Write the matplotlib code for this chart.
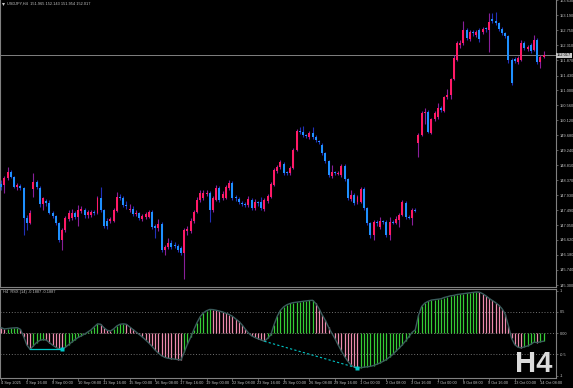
import matplotlib
matplotlib.use("Agg")
import matplotlib.pyplot as plt
import numpy as np

# ---------------- data (USDJPY H4) ----------------
opens = [148.25, 148.22, 148.43, 148.60, 148.46, 148.16, 148.19, 148.14, 147.26, 147.11,
         148.10, 148.31, 148.14, 147.67, 147.75, 147.70, 147.40, 147.32, 147.11, 146.61,
         146.91, 147.23, 147.26, 147.40, 147.29, 147.46, 147.49, 147.35, 147.35, 147.43,
         147.40, 147.84, 147.49, 147.17, 147.17, 147.17, 147.46, 147.87, 147.84, 147.64,
         147.49, 147.52, 147.37, 147.40, 147.23, 147.29, 147.29, 147.43, 147.02, 146.97,
         147.08, 146.32, 146.41, 146.53, 146.47, 146.44, 146.38, 146.23, 146.88, 146.88,
         147.17, 147.43, 147.78, 147.84, 147.96, 147.99, 147.49, 147.78, 148.14, 147.84,
         147.84, 148.14, 148.28, 147.87, 147.81, 147.70, 147.67, 147.64, 147.78, 147.55,
         147.73, 147.73, 147.52, 147.75, 147.87, 148.22, 148.63, 148.75, 148.84, 148.60,
         148.57, 148.72, 149.24, 149.80, 149.77, 149.68, 149.63, 149.74, 149.63, 149.51,
         149.39, 149.16, 148.92, 148.49, 148.60, 148.55, 148.51, 148.78, 148.40, 147.81,
         147.93, 147.73, 147.73, 148.11, 147.55, 147.11, 146.76, 147.14, 146.99, 147.17,
         147.14, 146.76, 147.14, 147.11, 147.20, 147.35, 147.70, 147.29, 147.26, 147.49,
         149.45, 149.68, 150.33, 150.36, 149.74, 150.15, 150.21, 150.47, 150.39, 150.79,
         150.85, 151.32, 151.88, 152.32, 152.37, 152.75, 152.49, 152.69, 152.61, 152.75,
         152.69, 152.81, 152.75, 153.07, 153.02, 152.96, 152.78, 152.66, 152.58, 151.88,
         151.90, 151.82, 151.88, 152.37, 152.20, 152.31, 152.17, 152.46, 151.82, 151.965]
highs = [148.37, 148.49, 148.75, 148.66, 148.49, 148.28, 148.25, 148.16, 147.35, 147.49,
         148.57, 148.37, 148.19, 147.87, 147.82, 147.78, 147.46, 147.35, 147.14, 146.97,
         147.32, 147.49, 147.52, 147.46, 147.64, 147.61, 147.55, 147.49, 147.49, 147.49,
         147.90, 148.16, 147.52, 147.26, 147.29, 147.55, 148.02, 147.96, 147.90, 147.75,
         147.67, 147.61, 147.49, 147.43, 147.38, 147.43, 147.49, 147.49, 147.08, 147.23,
         147.14, 146.47, 146.67, 146.61, 146.56, 146.50, 146.44, 146.97, 147.02, 147.26,
         147.49, 147.87, 148.08, 148.08, 148.08, 148.05, 147.90, 148.22, 148.19, 148.05,
         148.22, 148.37, 148.34, 147.93, 147.87, 147.75, 147.73, 147.90, 147.84, 147.81,
         147.75, 147.87, 147.84, 147.96, 148.31, 148.72, 148.81, 148.95, 148.89, 148.63,
         148.78, 149.30, 149.86, 149.92, 149.95, 149.71, 149.80, 149.92, 149.68, 149.54,
         149.45, 149.19, 148.95, 148.81, 148.63, 148.63, 148.84, 148.84, 148.43, 148.08,
         147.99, 147.93, 148.16, 148.16, 147.58, 147.14, 147.20, 147.20, 147.29, 147.20,
         147.20, 147.29, 147.20, 147.32, 147.41, 147.78, 147.75, 147.35, 147.55, 147.55,
         149.74, 150.39, 150.47, 150.41, 150.18, 150.39, 150.62, 150.53, 150.82, 151.03,
         151.35, 152.02, 152.43, 152.46, 153.04, 152.81, 152.75, 152.75, 152.75, 152.81,
         152.84, 152.84, 153.25, 153.25, 153.28, 153.01, 152.84, 152.69, 152.61, 151.93,
         151.96, 151.99, 152.46, 152.43, 152.31, 152.37, 152.61, 152.52, 152.02, 152.143]
lows = [148.08, 147.99, 148.37, 148.43, 148.13, 148.08, 148.08, 146.76, 146.91, 147.08,
        147.87, 148.10, 147.58, 147.49, 147.62, 147.37, 147.26, 147.05, 146.56, 146.32,
        146.85, 147.17, 147.20, 147.23, 147.02, 147.40, 147.26, 147.26, 147.29, 147.35,
        147.37, 147.43, 146.97, 146.94, 147.11, 147.14, 147.43, 147.78, 147.58, 147.52,
        147.43, 147.32, 147.32, 147.20, 147.17, 147.23, 147.26, 146.94, 146.67, 146.88,
        146.26, 146.18, 146.35, 146.35, 146.38, 146.26, 146.18, 145.48, 146.76, 146.82,
        147.11, 147.40, 147.73, 147.78, 147.90, 147.14, 147.43, 147.75, 147.73, 147.78,
        147.81, 148.08, 147.78, 147.75, 147.67, 147.61, 147.58, 147.58, 147.49, 147.49,
        147.61, 147.49, 147.46, 147.70, 147.84, 148.19, 148.57, 148.69, 148.51, 148.51,
        148.51, 148.69, 149.22, 149.71, 149.63, 149.60, 149.57, 149.57, 149.48, 149.42,
        149.10, 148.87, 148.46, 148.43, 148.51, 148.51, 148.46, 148.34, 147.78, 147.75,
        147.64, 147.67, 147.70, 147.49, 147.05, 146.67, 146.61, 147.02, 146.94, 147.08,
        146.70, 146.61, 147.08, 147.08, 146.99, 147.32, 147.23, 147.23, 147.05, 147.43,
        149.04, 149.65, 150.00, 149.74, 149.71, 150.09, 150.15, 150.36, 150.36, 150.74,
        150.74, 151.29, 151.85, 152.23, 152.31, 152.46, 152.43, 152.58, 152.55, 152.40,
        152.64, 152.69, 152.11, 152.96, 152.90, 152.72, 152.61, 152.52, 151.79, 151.14,
        151.79, 151.76, 151.85, 152.17, 152.14, 152.08, 152.14, 151.76, 151.64, 151.954]
closes = [148.16, 148.43, 148.60, 148.46, 148.16, 148.22, 148.14, 147.26, 147.11, 147.40,
          148.31, 148.16, 147.67, 147.84, 147.70, 147.40, 147.32, 147.11, 146.61, 146.91,
          147.26, 147.40, 147.40, 147.29, 147.49, 147.52, 147.35, 147.43, 147.43, 147.40,
          147.84, 147.49, 147.02, 147.02, 147.23, 147.49, 147.87, 147.84, 147.64, 147.61,
          147.52, 147.37, 147.40, 147.26, 147.32, 147.37, 147.43, 146.99, 146.97, 147.08,
          146.32, 146.41, 146.53, 146.41, 146.44, 146.32, 146.23, 146.91, 146.94, 147.17,
          147.43, 147.78, 147.99, 147.99, 147.99, 147.49, 147.84, 148.14, 147.78, 147.96,
          148.16, 148.28, 147.84, 147.84, 147.73, 147.67, 147.64, 147.81, 147.55, 147.73,
          147.70, 147.55, 147.78, 147.90, 148.25, 148.66, 148.75, 148.89, 148.57, 148.57,
          148.72, 149.24, 149.80, 149.77, 149.68, 149.65, 149.74, 149.63, 149.54, 149.48,
          149.16, 148.92, 148.51, 148.60, 148.57, 148.58, 148.78, 148.40, 147.84, 147.93,
          147.70, 147.87, 148.11, 147.55, 147.11, 146.76, 147.14, 147.11, 147.17, 147.14,
          146.76, 147.14, 147.11, 147.23, 147.35, 147.73, 147.29, 147.26, 147.49, 147.46,
          149.68, 150.33, 150.36, 149.77, 150.15, 150.33, 150.47, 150.41, 150.79, 150.85,
          151.32, 151.93, 152.37, 152.37, 152.75, 152.52, 152.69, 152.66, 152.69, 152.49,
          152.78, 152.78, 152.99, 153.02, 152.96, 152.78, 152.66, 152.58, 151.88, 151.20,
          151.86, 151.93, 152.37, 152.23, 152.26, 152.14, 152.46, 151.82, 151.96, 152.017]

rsx = [0.13, 0.10, 0.11, 0.12, 0.125, 0.13, 0.09, -0.08, -0.28, -0.38,
       -0.30, -0.22, -0.17, -0.15, -0.16, -0.22, -0.28, -0.33, -0.37, -0.38,
       -0.33, -0.27, -0.21, -0.15, -0.10, -0.06, -0.02, 0.03, 0.08, 0.15,
       0.22, 0.21, 0.13, 0.07, 0.05, 0.10, 0.17, 0.21, 0.22, 0.21,
       0.15, 0.09, 0.03, -0.03, -0.09, -0.16, -0.23, -0.31, -0.40, -0.47,
       -0.53, -0.57, -0.59, -0.60, -0.61, -0.62, -0.63, -0.45, -0.26, -0.10,
       0.08, 0.25, 0.39, 0.48, 0.53, 0.56, 0.555, 0.54, 0.52, 0.50,
       0.47, 0.44, 0.40, 0.34, 0.28, 0.20, 0.10, 0.01, -0.06, -0.10,
       -0.13, -0.16, -0.19, -0.12, -0.04, 0.20, 0.40, 0.54, 0.62, 0.67,
       0.70, 0.72, 0.73, 0.74, 0.75, 0.76, 0.77, 0.775, 0.70, 0.58,
       0.43, 0.30, 0.14, 0.00, -0.13, -0.28, -0.42, -0.55, -0.66, -0.75,
       -0.80, -0.82, -0.81, -0.80, -0.79, -0.78, -0.76, -0.73, -0.70, -0.66,
       -0.62, -0.56, -0.50, -0.42, -0.35, -0.27, -0.18, -0.08, 0.02, 0.08,
       0.42, 0.63, 0.71, 0.75, 0.78, 0.79, 0.80, 0.81, 0.84, 0.86,
       0.88, 0.89, 0.91, 0.92, 0.93, 0.94, 0.95, 0.96, 0.97, 0.965,
       0.93, 0.88, 0.82, 0.77, 0.72, 0.66, 0.58, 0.45, 0.18, -0.12,
       -0.27, -0.33, -0.345, -0.32, -0.30, -0.26, -0.21, -0.22, -0.20, -0.1887]

date_labels = ["4 Sep 2025", "5 Sep 16:00", "9 Sep 00:00", "10 Sep 08:00", "11 Sep 16:00",
               "15 Sep 00:00", "16 Sep 08:00", "17 Sep 16:00", "19 Sep 00:00", "22 Sep 08:00",
               "23 Sep 16:00", "25 Sep 00:00", "26 Sep 08:00", "29 Sep 16:00", "1 Oct 00:00",
               "2 Oct 08:00", "3 Oct 16:00", "7 Oct 00:00", "8 Oct 08:00", "9 Oct 16:00",
               "13 Oct 00:00", "14 Oct 08:00"]
date_label_step = 8
price_ticks = [153.630, 153.190, 152.750, 152.310, 151.870, 151.430, 151.000, 150.560,
               150.120, 149.680, 149.240, 148.810, 148.370, 147.930, 147.490, 147.050,
               146.620, 146.180, 145.740, 145.300]
rsx_ticks = [1, 0.5, 0, -0.5, -1]
rsx_tick_labels = ["1", "0.5", "0.00", "-0.5", "-1"]
rsx_levels = [0.5, 0.0, -0.5]
last_price = 152.017
title_main = "USDJPY,H4  151.965 152.143 151.954 152.017"
title_ind = "H4  RSX (14) -0.1887 -0.1887"
div_solid_x, div_solid_y = [9, 19], [-0.38, -0.38]
div_dash_x, div_dash_y = [82, 111], [-0.19, -0.82]
watermark = "H4"

# ---------------- styling ----------------
plt.rcParams['font.family'] = ['Liberation Sans', 'DejaVu Sans']
BG = 'black'
GRID = '#808080'
TXT = '#c4c4c4'
BULL, BEAR = '#ff1a66', '#1e90ff'
BULL_W, BEAR_W = '#8a1f9a', '#2230b8'
H_UP, H_DN = '#36cc36', '#ee8cae'
CYAN = '#00c8c8'
FS = 2.75
FS_AX = 2.75

W, H = 573, 388
fig = plt.figure(figsize=(W / 100, H / 100), dpi=100, facecolor=BG)


def px_axes(x0, y0, x1, y1):
    return fig.add_axes([x0 / W, 1 - y1 / H, (x1 - x0) / W, (y1 - y0) / H])


ax = px_axes(0, 0, 556, 286.5)
axi = px_axes(0, 288.5, 556, 378)

o, h, l, c = map(np.array, (opens, highs, lows, closes))
n = len(c)
idx = np.arange(n)
x_left, x_right = -0.374, 172.84

for a in (ax, axi):
    a.set_facecolor(BG)
    a.set_xlim(x_left, x_right)
    for s in a.spines.values():
        s.set_color(GRID)
        s.set_linewidth(0.8)

ax.spines['top'].set_visible(False)
ax.set_ylim(145.257, 153.64)

# candles
up = c >= o
bot = np.minimum(o, c)
bh = np.maximum(np.abs(c - o), 0.025)
ax.vlines(idx[up], l[up], h[up], color=BULL_W, lw=0.8, zorder=2)
ax.vlines(idx[~up], l[~up], h[~up], color=BEAR_W, lw=0.8, zorder=2)
ax.bar(idx[up], bh[up], bottom=bot[up], width=0.62, color=BULL, linewidth=0, zorder=3)
ax.bar(idx[~up], bh[~up], bottom=bot[~up], width=0.62, color=BEAR, linewidth=0, zorder=3)

# current price line
ax.axhline(last_price, color=GRID, lw=0.7, zorder=1)

ax.set_xticks([])
ax.yaxis.tick_right()
ax.set_yticks(price_ticks)
ax.set_yticklabels([f"{p:.3f}" for p in price_ticks])
ax.tick_params(axis='y', labelsize=FS_AX, labelcolor=TXT, color=GRID, length=1.5, width=0.5, pad=1.0)
ax.text(1.0018, last_price, f"{last_price:.3f}", transform=ax.get_yaxis_transform(),
        ha='left', va='center', fontsize=FS_AX, color='black', zorder=10, clip_on=False,
        bbox=dict(boxstyle='square,pad=0.2', fc='#c8c8c8', ec='none'))

# main title
ax.plot([3 / 556], [1 - 3.5 / 286.5], marker='v', ms=2.2, color=TXT, mec='none',
        transform=ax.transAxes, clip_on=False)
ax.text(7 / 556, 1 - 3.8 / 286.5, title_main, transform=ax.transAxes, ha='left', va='center',
        fontsize=FS, color=TXT)

# ---------------- RSX panel ----------------
r = np.array(rsx)
axi.set_ylim(-1.054, 1.052)
for lv in rsx_levels:
    axi.axhline(lv, color=GRID, lw=0.6, ls=(0, (1.2, 2.2)), zorder=1)
rising = np.r_[False, r[1:] >= r[:-1]]
cols = np.where(rising, H_UP, H_DN)
axi.vlines(idx, 0, r, colors=cols, lw=0.9, zorder=2)
axi.plot(idx, r, color='#3a5c5c', lw=1.0, zorder=3)

axi.plot(div_solid_x, div_solid_y, color=CYAN, lw=0.9, zorder=4)
axi.plot(div_solid_x[-1], div_solid_y[-1], 's', ms=2.2, color=CYAN, mec='none', zorder=5)
axi.plot(div_dash_x, div_dash_y, color=CYAN, lw=0.8, ls=(0, (2, 2)), zorder=4)
axi.plot(div_dash_x[-1], div_dash_y[-1], 's', ms=2.2, color=CYAN, mec='none', zorder=5)

axi.yaxis.tick_right()
axi.set_yticks(rsx_ticks)
axi.set_yticklabels(rsx_tick_labels)
axi.tick_params(axis='y', labelsize=FS_AX, labelcolor=TXT, color=GRID, length=1.5, width=0.5, pad=1.0)

tick_pos = [k * date_label_step for k in range(len(date_labels))]
axi.set_xticks(tick_pos)
axi.set_xticklabels([])
axi.tick_params(axis='x', color=GRID, length=2.5, width=0.5, direction='out')
tr = axi.get_xaxis_transform()
for pos, lab in zip(tick_pos, date_labels):
    axi.text(pos - 0.2, -4.8 / 89.5, lab, transform=tr, ha='left', va='center',
             fontsize=FS, color=TXT, clip_on=False)

axi.text(3 / 556, 1 - 3.8 / 89.5, title_ind, transform=axi.transAxes, ha='left', va='center',
         fontsize=FS, color=TXT)

fig.text(515 / W, 1 - 372 / H, watermark, fontsize=21, fontweight='bold', color='#dcdcdc',
         ha='left', va='baseline', family='Liberation Sans', zorder=20)

fig.savefig("out.png", dpi=100, facecolor=BG)
